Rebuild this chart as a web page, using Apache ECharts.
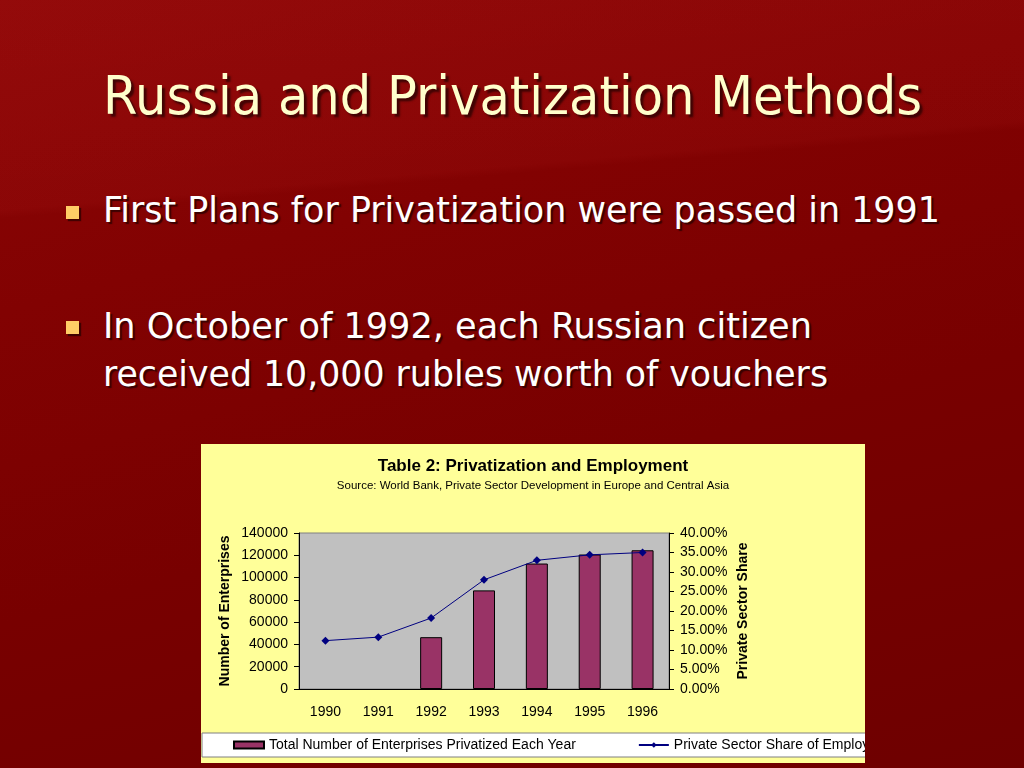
<!DOCTYPE html>
<html><head><meta charset="utf-8">
<script src="https://cdn.jsdelivr.net/npm/echarts@6/dist/echarts.min.js"></script>
<style>
html,body{margin:0;padding:0;width:1024px;height:768px;overflow:hidden}
body{position:relative;background:linear-gradient(165deg,#8c0606 0%,#820202 30%,#780000 60%,#6e0000 100%);font-family:"DejaVu Sans Condensed","DejaVu Sans",sans-serif}
#band{position:absolute;left:0;top:0;width:1024px;height:768px;background:linear-gradient(175deg,rgba(255,70,70,0.07) 0%,rgba(255,70,70,0.05) 24.5%,rgba(0,0,0,0) 25.5%)}
.t{position:absolute;white-space:nowrap;line-height:1;transform-origin:0 0}
#title{color:#ffffcc;font-size:54px;text-shadow:3px 3px 2px rgba(0,0,0,.55)}
.b{color:#fff;font-size:35px;text-shadow:2px 2px 1px rgba(0,0,0,.55)}
.sq{position:absolute;width:13px;height:13px;background:#ffcc66;box-shadow:2px 2px 1px rgba(0,0,0,.5)}
#chart{position:absolute;left:201px;top:444px;width:664px;height:319px}
</style></head>
<body>
<div id="band"></div>
<div class="t" id="title" style="left:103px;top:69px" data-w="819">Russia and Privatization Methods</div>
<div class="sq" style="left:66px;top:206px"></div>
<div class="t b" style="left:103px;top:193px" data-w="837">First Plans for Privatization were passed in 1991</div>
<div class="sq" style="left:66px;top:321px"></div>
<div class="t b" style="left:103px;top:309px" data-w="709">In October of 1992, each Russian citizen</div>
<div class="t b" style="left:103px;top:357px" data-w="725">received 10,000 rubles worth of vouchers</div>
<div id="chart"></div>
<script>
const years = ['1990', '1991', '1992', '1993', '1994', '1995', '1996'];
const enterprises = [null, null, 46500, 88500, 112600, 120700, 124500];
const privateShare = [12.4, 13.3, 18.2, 28.0, 33.0, 34.4, 35.0];
const leftAxisRange = [0, 140000, 20000];
const rightAxisRange = [0, 40, 5];
const chartTitle = 'Table 2: Privatization and Employment';
const chartSource = 'Source: World Bank, Private Sector Development in Europe and Central Asia';
const barName = 'Total Number of Enterprises Privatized Each Year';
const lineName = 'Private Sector Share of Employment';

function fit(){
  document.querySelectorAll('.t').forEach(function(el){
    el.style.transform='none';
    var w=el.getBoundingClientRect().width;
    var tw=+el.dataset.w;
    el.style.transform='scaleX('+(tw/w)+')';
  });
}
fit();
if(document.fonts&&document.fonts.ready){document.fonts.ready.then(fit);}

const chart = echarts.init(document.getElementById('chart'), null, {renderer:'canvas'});
const font = 'Liberation Sans, Arial, sans-serif';
chart.setOption({
  backgroundColor:'#ffff99',
  animation:false,
  textStyle:{fontFamily:font},
  title:[
    {text:chartTitle,left:'center',top:13,padding:0,textStyle:{fontFamily:font,fontSize:17,fontWeight:'bold',color:'#000',lineHeight:18}},
    {text:chartSource,left:'center',top:36,padding:0,textStyle:{fontFamily:font,fontSize:11.5,fontWeight:'normal',color:'#000',lineHeight:12}}
  ],
  legend:{
    left:1,top:289,width:1000,padding:[5,80,5,31],backgroundColor:'#fff',borderColor:'#808080',borderWidth:1,borderRadius:0,
    itemWidth:30,itemHeight:7,itemGap:62,
    textStyle:{fontFamily:font,fontSize:14,color:'#000'},
    data:[{name:barName,icon:'rect'},{name:lineName}]
  },
  grid:{left:98,right:196,top:89,bottom:74,show:true,backgroundColor:'#c0c0c0',borderColor:'#808080',borderWidth:1,containLabel:false},
  xAxis:{
    type:'category',data:years,
    axisLine:{lineStyle:{color:'#000',width:1}},
    axisTick:{length:5,lineStyle:{color:'#000'}},
    axisLabel:{color:'#000',fontSize:14,margin:16,fontFamily:font}
  },
  yAxis:[
    {type:'value',min:leftAxisRange[0],max:leftAxisRange[1],interval:leftAxisRange[2],
     name:'Number of Enterprises',nameLocation:'middle',nameGap:67,nameRotate:90,nameMoveOverlap:false,
     nameTextStyle:{fontFamily:font,fontWeight:'bold',fontSize:14,color:'#000'},
     axisLine:{show:true,lineStyle:{color:'#000'}},axisTick:{show:true,length:5,lineStyle:{color:'#000'}},
     splitLine:{show:false},
     axisLabel:{color:'#000',fontSize:14,margin:11,fontFamily:font,formatter:function(v){return String(v);}}},
    {type:'value',position:'right',min:rightAxisRange[0],max:rightAxisRange[1],interval:rightAxisRange[2],
     name:'Private Sector Share',nameLocation:'middle',nameGap:67,nameRotate:90,nameMoveOverlap:false,
     nameTextStyle:{fontFamily:font,fontWeight:'bold',fontSize:14,color:'#000'},
     axisLine:{show:true,lineStyle:{color:'#000'}},axisTick:{show:true,length:5,lineStyle:{color:'#000'}},
     splitLine:{show:false},
     axisLabel:{color:'#000',fontSize:14,margin:11,fontFamily:font,formatter:function(v){return v.toFixed(2)+'%';}}}
  ],
  series:[
    {name:barName,type:'bar',data:enterprises,barWidth:22,itemStyle:{color:'#993366',borderColor:'#000',borderWidth:1}},
    {name:lineName,type:'line',yAxisIndex:1,data:privateShare,symbol:'diamond',symbolSize:8,
     lineStyle:{color:'#000080',width:1},itemStyle:{color:'#000080'},z:3}
  ]
});
</script>
</body></html>
